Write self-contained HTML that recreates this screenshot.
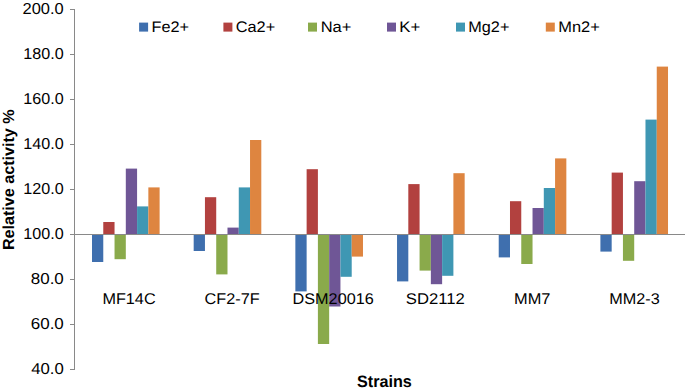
<!DOCTYPE html>
<html><head><meta charset="utf-8"><title>Relative activity chart</title>
<style>html,body{margin:0;padding:0;background:#fff;width:685px;height:391px;overflow:hidden}svg{display:block}text{font-family:"Liberation Sans",sans-serif;text-rendering:geometricPrecision}</style>
</head><body>
<svg width="685" height="391" viewBox="0 0 685 391" font-family="Liberation Sans, sans-serif">
<rect width="685" height="391" fill="#fff"/>
<rect x="74" y="9" width="1" height="361" fill="#898989"/>
<rect x="70" y="9" width="4" height="1" fill="#898989"/>
<rect x="70" y="54" width="4" height="1" fill="#898989"/>
<rect x="70" y="99" width="4" height="1" fill="#898989"/>
<rect x="70" y="144" width="4" height="1" fill="#898989"/>
<rect x="70" y="189" width="4" height="1" fill="#898989"/>
<rect x="70" y="234" width="4" height="1" fill="#898989"/>
<rect x="70" y="279" width="4" height="1" fill="#898989"/>
<rect x="70" y="324" width="4" height="1" fill="#898989"/>
<rect x="70" y="369" width="4" height="1" fill="#898989"/>
<rect x="92.00" y="234.50" width="11.27" height="27.50" fill="#3F6FAE"/>
<rect x="103.27" y="222.00" width="11.27" height="12.50" fill="#B2413F"/>
<rect x="114.54" y="234.50" width="11.27" height="24.70" fill="#8AAA4B"/>
<rect x="125.81" y="168.60" width="11.27" height="65.90" fill="#6F5696"/>
<rect x="137.08" y="206.40" width="11.27" height="28.10" fill="#3F97B3"/>
<rect x="148.35" y="187.40" width="11.27" height="47.10" fill="#DE8540"/>
<rect x="193.68" y="234.50" width="11.27" height="16.50" fill="#3F6FAE"/>
<rect x="204.95" y="197.20" width="11.27" height="37.30" fill="#B2413F"/>
<rect x="216.22" y="234.50" width="11.27" height="39.90" fill="#8AAA4B"/>
<rect x="227.49" y="227.60" width="11.27" height="6.90" fill="#6F5696"/>
<rect x="238.76" y="187.40" width="11.27" height="47.10" fill="#3F97B3"/>
<rect x="250.03" y="140.00" width="11.27" height="94.50" fill="#DE8540"/>
<rect x="295.36" y="234.50" width="11.27" height="56.90" fill="#3F6FAE"/>
<rect x="306.63" y="169.20" width="11.27" height="65.30" fill="#B2413F"/>
<rect x="317.90" y="234.50" width="11.27" height="109.50" fill="#8AAA4B"/>
<rect x="329.17" y="234.50" width="11.27" height="72.00" fill="#6F5696"/>
<rect x="340.44" y="234.50" width="11.27" height="42.30" fill="#3F97B3"/>
<rect x="351.71" y="234.50" width="11.27" height="22.10" fill="#DE8540"/>
<rect x="397.04" y="234.50" width="11.27" height="46.90" fill="#3F6FAE"/>
<rect x="408.31" y="184.10" width="11.27" height="50.40" fill="#B2413F"/>
<rect x="419.58" y="234.50" width="11.27" height="36.10" fill="#8AAA4B"/>
<rect x="430.85" y="234.50" width="11.27" height="49.70" fill="#6F5696"/>
<rect x="442.12" y="234.50" width="11.27" height="41.30" fill="#3F97B3"/>
<rect x="453.39" y="173.20" width="11.27" height="61.30" fill="#DE8540"/>
<rect x="498.72" y="234.50" width="11.27" height="22.90" fill="#3F6FAE"/>
<rect x="509.99" y="201.20" width="11.27" height="33.30" fill="#B2413F"/>
<rect x="521.26" y="234.50" width="11.27" height="29.50" fill="#8AAA4B"/>
<rect x="532.53" y="208.00" width="11.27" height="26.50" fill="#6F5696"/>
<rect x="543.80" y="188.00" width="11.27" height="46.50" fill="#3F97B3"/>
<rect x="555.07" y="158.40" width="11.27" height="76.10" fill="#DE8540"/>
<rect x="600.40" y="234.50" width="11.27" height="17.10" fill="#3F6FAE"/>
<rect x="611.67" y="172.60" width="11.27" height="61.90" fill="#B2413F"/>
<rect x="622.94" y="234.50" width="11.27" height="26.30" fill="#8AAA4B"/>
<rect x="634.21" y="181.20" width="11.27" height="53.30" fill="#6F5696"/>
<rect x="645.48" y="119.60" width="11.27" height="114.90" fill="#3F97B3"/>
<rect x="656.75" y="66.60" width="11.27" height="167.90" fill="#DE8540"/>
<rect x="74" y="234" width="611" height="1" fill="#898989"/>
<text x="22.48" y="13.70" font-size="15.8" font-weight="normal" textLength="41.24" lengthAdjust="spacingAndGlyphs" fill="#000">200.0</text>
<text x="23.29" y="58.70" font-size="15.8" font-weight="normal" textLength="40.42" lengthAdjust="spacingAndGlyphs" fill="#000">180.0</text>
<text x="23.29" y="103.70" font-size="15.8" font-weight="normal" textLength="40.42" lengthAdjust="spacingAndGlyphs" fill="#000">160.0</text>
<text x="23.29" y="148.70" font-size="15.8" font-weight="normal" textLength="40.42" lengthAdjust="spacingAndGlyphs" fill="#000">140.0</text>
<text x="23.29" y="193.70" font-size="15.8" font-weight="normal" textLength="40.42" lengthAdjust="spacingAndGlyphs" fill="#000">120.0</text>
<text x="23.29" y="238.70" font-size="15.8" font-weight="normal" textLength="40.42" lengthAdjust="spacingAndGlyphs" fill="#000">100.0</text>
<text x="30.74" y="283.70" font-size="15.8" font-weight="normal" textLength="33.07" lengthAdjust="spacingAndGlyphs" fill="#000">80.0</text>
<text x="30.75" y="328.70" font-size="15.8" font-weight="normal" textLength="33.05" lengthAdjust="spacingAndGlyphs" fill="#000">60.0</text>
<text x="31.18" y="373.70" font-size="15.8" font-weight="normal" textLength="32.61" lengthAdjust="spacingAndGlyphs" fill="#000">40.0</text>
<text x="102.40" y="303.60" font-size="15.5" font-weight="normal" textLength="53.22" lengthAdjust="spacingAndGlyphs" fill="#000">MF14C</text>
<text x="204.59" y="303.60" font-size="15.5" font-weight="normal" textLength="55.05" lengthAdjust="spacingAndGlyphs" fill="#000">CF2-7F</text>
<text x="292.60" y="303.60" font-size="15.5" font-weight="normal" textLength="81.09" lengthAdjust="spacingAndGlyphs" fill="#000">DSM20016</text>
<text x="405.85" y="303.60" font-size="15.5" font-weight="normal" textLength="58.98" lengthAdjust="spacingAndGlyphs" fill="#000">SD2112</text>
<text x="514.09" y="303.60" font-size="15.5" font-weight="normal" textLength="36.36" lengthAdjust="spacingAndGlyphs" fill="#000">MM7</text>
<text x="609.30" y="303.60" font-size="15.5" font-weight="normal" textLength="50.45" lengthAdjust="spacingAndGlyphs" fill="#000">MM2-3</text>
<rect x="139.1" y="22.6" width="9" height="9" fill="#3F6FAE"/>
<text x="151.50" y="31.50" font-size="15.3" font-weight="normal" textLength="37.57" lengthAdjust="spacingAndGlyphs" fill="#000">Fe2+</text>
<rect x="223.4" y="22.6" width="9" height="9" fill="#B2413F"/>
<text x="235.79" y="31.50" font-size="15.3" font-weight="normal" textLength="39.41" lengthAdjust="spacingAndGlyphs" fill="#000">Ca2+</text>
<rect x="308" y="22.6" width="9" height="9" fill="#8AAA4B"/>
<text x="320.68" y="31.50" font-size="15.3" font-weight="normal" textLength="30.70" lengthAdjust="spacingAndGlyphs" fill="#000">Na+</text>
<rect x="387" y="22.6" width="9" height="9" fill="#6F5696"/>
<text x="399.26" y="31.50" font-size="15.3" font-weight="normal" textLength="21.00" lengthAdjust="spacingAndGlyphs" fill="#000">K+</text>
<rect x="456" y="22.6" width="9" height="9" fill="#3F97B3"/>
<text x="468.30" y="31.50" font-size="15.3" font-weight="normal" textLength="41.10" lengthAdjust="spacingAndGlyphs" fill="#000">Mg2+</text>
<rect x="545.8" y="22.6" width="9" height="9" fill="#DE8540"/>
<text x="558.29" y="31.50" font-size="15.3" font-weight="normal" textLength="41.52" lengthAdjust="spacingAndGlyphs" fill="#000">Mn2+</text>
<text x="357.01" y="387.10" font-size="16.5" font-weight="bold" textLength="54.83" lengthAdjust="spacingAndGlyphs" fill="#000">Strains</text>
<text transform="translate(14.1 250.05) rotate(-90)" x="0" y="0" font-size="16" font-weight="bold" textLength="140.68" lengthAdjust="spacingAndGlyphs">Relative activity %</text>
</svg>
</body></html>
